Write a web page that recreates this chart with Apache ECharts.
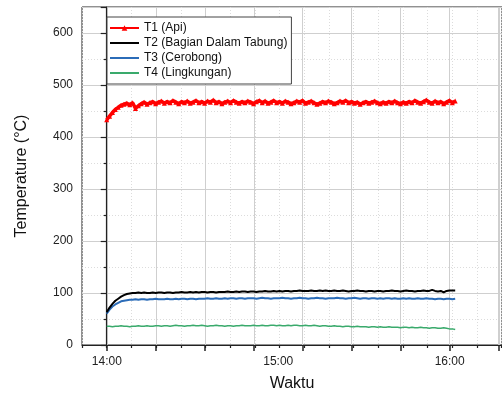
<!DOCTYPE html>
<html>
<head>
<meta charset="utf-8">
<script src="https://cdn.jsdelivr.net/npm/echarts@6/dist/echarts.min.js"></script>
<style>html,body{margin:0;padding:0;background:#fff}#c{width:502px;height:406px}</style>
</head>
<body>
<div id="c"></div>
<script>
// ---- data (minutes after 14:00) ----
var timeMin = [0,1,2,3,4,5,6,7,8,9,10,11,12,13,14,15,16,17,18,19,20,21,22,23,24,25,26,27,28,29,30,31,32,33,34,35,36,37,38,39,40,41,42,43,44,45,46,47,48,49,50,51,52,53,54,55,56,57,58,59,60,61,62,63,64,65,66,67,68,69,70,71,72,73,74,75,76,77,78,79,80,81,82,83,84,85,86,87,88,89,90,91,92,93,94,95,96,97,98,99,100,101,102,103,104,105,106,107,108,109,110,111,112,113,114,115,116,117,118,119,120,121];
var seriesNames = ['T1 (Api)','T2 (Bagian Dalam Tabung)','T3 (Cerobong)','T4 (Lingkungan)'];
var t1 = [433,440,447,453,457,461,463,465,462,466,
455,460,464,467,463,466,468,464,467,469,
465,468,466,470,467,464,468,466,469,465,
467,470,466,468,465,469,467,471,466,468,
464,467,469,466,470,467,465,468,466,469,
467,464,468,470,466,469,465,467,470,466,
468,465,469,467,464,466,469,467,470,465,
467,469,466,463,465,468,466,469,467,464,
466,469,467,470,466,468,465,467,463,466,
468,465,467,469,466,464,467,465,468,466,
469,466,464,467,465,468,466,470,467,465,
468,471,467,465,469,466,468,464,467,470,
466,469];
var t2 = [63,72,79,85,89,93,96,98,99,100,
100,101,100,101,100,100,101,100,101,101,
100,101,101,100,101,101,102,101,101,102,
101,102,101,102,102,101,102,102,101,102,
102,102,103,102,102,103,102,103,103,102,
103,103,102,103,103,104,103,103,104,103,
104,103,104,104,103,104,104,105,104,104,
104,105,104,104,105,104,105,104,104,105,
104,104,105,104,103,104,104,105,104,104,
103,104,104,103,104,104,103,104,104,105,
104,104,103,104,105,104,104,103,104,104,
105,104,104,106,104,103,104,101,104,105,
105,105];
var t3 = [60,68,74,78,81,84,85,86,87,87,
88,87,88,88,87,88,88,89,88,88,
88,89,88,88,89,88,89,89,88,89,
89,88,89,89,89,90,89,89,90,89,
89,90,89,90,90,89,90,90,89,90,
90,90,89,90,91,90,90,89,90,90,
90,91,90,90,89,90,90,91,90,90,
89,90,90,91,90,90,89,90,90,90,
91,90,90,89,90,90,91,90,89,90,
90,89,90,90,89,90,89,90,90,89,
90,89,89,90,89,90,89,89,90,89,
89,90,89,89,88,89,89,88,89,89,
88,89];
var t4 = [36,36,35,36,36,37,36,36,35,36,
36,37,36,36,37,36,36,37,37,36,
37,37,36,37,38,37,37,36,37,37,
38,37,37,38,37,36,37,37,38,37,
37,36,37,37,36,37,37,38,37,37,
37,38,37,37,38,37,37,38,38,37,
38,37,37,38,37,38,38,37,37,38,
37,37,38,37,36,37,37,36,36,37,
36,36,35,36,36,35,35,36,35,35,
35,34,35,35,34,35,34,34,35,34,
34,34,33,34,34,33,34,33,33,34,
33,33,32,33,33,32,32,33,32,31,
31,30];
var xTickValues = [0,60,120];
var xTickLabels = ['14:00','15:00','16:00'];
var yTicks = [0,100,200,300,400,500,600];

// ---- layout ----
var FONT = 'Liberation Sans, Arial, sans-serif';
var X_MIN = -60/7, X_MAX = 137.25, MINOR = 60/7, MAJOR = 120/7;
var G_LEFT = 82, G_RIGHT = -2, G_TOP = 7, G_BOTTOM = 61;
var plotW = 502 - G_LEFT - G_RIGHT;
var pxPerMin = plotW / (X_MAX - X_MIN);
var G1_LEFT = G_LEFT + (0 - X_MIN) * pxPerMin;

function pairs(vals){ return vals.map(function(v,i){ return [timeMin[i], v]; }); }

var chart = echarts.init(document.getElementById('c'), null, {renderer:'canvas'});
chart.setOption({
  animation: false,
  backgroundColor: '#fff',
  grid: [
    {left:G_LEFT, right:G_RIGHT, top:G_TOP, bottom:G_BOTTOM, show:true, borderColor:'#222', borderWidth:1, backgroundColor:'transparent'},
    {left:G1_LEFT, right:G_RIGHT, top:G_TOP, bottom:G_BOTTOM}
  ],
  legend: {
    orient:'vertical', left:107, top:17,
    backgroundColor:'#fff', borderColor:'#444', borderWidth:1,
    padding:[4,4,4,2], itemGap:1, itemWidth:29, itemHeight:7,
    textStyle:{fontFamily:FONT, fontSize:12, color:'#111', lineHeight:14},
    data: [
      {name:seriesNames[0]},
      {name:seriesNames[1], itemStyle:{opacity:0}},
      {name:seriesNames[2], itemStyle:{opacity:0}},
      {name:seriesNames[3], itemStyle:{opacity:0}}
    ]
  },
  xAxis: [
    {gridIndex:0, type:'value', min:X_MIN, max:X_MAX, interval:MINOR,
     name:'Waktu', nameLocation:'middle', nameGap:31,
     nameTextStyle:{fontFamily:FONT, fontSize:16, color:'#111'},
     axisLine:{show:true, onZero:false, lineStyle:{color:'#222', width:1.2}},
     axisTick:{show:true, length:3, lineStyle:{color:'#222', width:1.2}},
     axisLabel:{show:false},
     splitLine:{show:true, lineStyle:{color:'#dcdcdc', type:[1,2], width:1}}},
    {gridIndex:1, type:'value', min:0, max:X_MAX, interval:MAJOR,
     axisLine:{show:false, onZero:false},
     axisTick:{show:true, length:6, lineStyle:{color:'#222', width:1.5}},
     axisLabel:{show:false},
     splitLine:{show:true, lineStyle:{color:'#cfcfcf', width:1}}},
    {gridIndex:1, type:'value', position:'bottom', min:0, max:X_MAX, interval:60,
     axisLine:{show:false, onZero:false}, axisTick:{show:false}, splitLine:{show:false},
     axisLabel:{show:true, margin:11, fontFamily:FONT, fontSize:12, color:'#222',
       formatter:function(v){ var i = xTickValues.indexOf(Math.round(v)); return (i>=0 && Math.abs(v-xTickValues[i])<1e-6) ? xTickLabels[i] : ''; }}}
  ],
  yAxis: [
    {gridIndex:0, type:'value', min:0, max:650, interval:100,
     name:'Temperature (°C)', nameLocation:'middle', nameGap:52,
     nameTextStyle:{fontFamily:FONT, fontSize:16, color:'#111'},
     axisLine:{show:true, lineStyle:{color:'#222', width:1.2}},
     axisTick:{show:true, length:6, lineStyle:{color:'#222', width:1.2}},
     minorTick:{show:true, splitNumber:2, length:3, lineStyle:{color:'#222', width:1.2}},
     axisLabel:{margin:9, fontFamily:FONT, fontSize:12, color:'#222',
       formatter:function(v){ return yTicks.indexOf(v)>=0 ? String(v) : ''; }},
     splitLine:{show:true, lineStyle:{color:'#cfcfcf', width:1}},
     minorSplitLine:{show:true, lineStyle:{color:'#dcdcdc', type:[1,2], width:1}}},
    {gridIndex:1, type:'value', min:0, max:650, show:false, splitLine:{show:false}}
  ],
  series: [
    {name:seriesNames[0], type:'line', xAxisIndex:0, yAxisIndex:0, data:pairs(t1),
     symbol:'triangle', symbolSize:5, showSymbol:true, showAllSymbol:true,
     itemStyle:{color:'#ff0000'}, lineStyle:{color:'#ff0000', width:3.5}, z:5},
    {name:seriesNames[1], type:'line', xAxisIndex:0, yAxisIndex:0, data:pairs(t2),
     symbol:'none', itemStyle:{color:'#000'}, lineStyle:{color:'#000', width:2}, z:4},
    {name:seriesNames[2], type:'line', xAxisIndex:0, yAxisIndex:0, data:pairs(t3),
     symbol:'none', itemStyle:{color:'#2b6cb8'}, lineStyle:{color:'#2b6cb8', width:2}, z:3},
    {name:seriesNames[3], type:'line', xAxisIndex:0, yAxisIndex:0, data:pairs(t4),
     symbol:'none', itemStyle:{color:'#3aaa6c'}, lineStyle:{color:'#3aaa6c', width:1.5}, z:3}
  ]
});
</script>
</body>
</html>
